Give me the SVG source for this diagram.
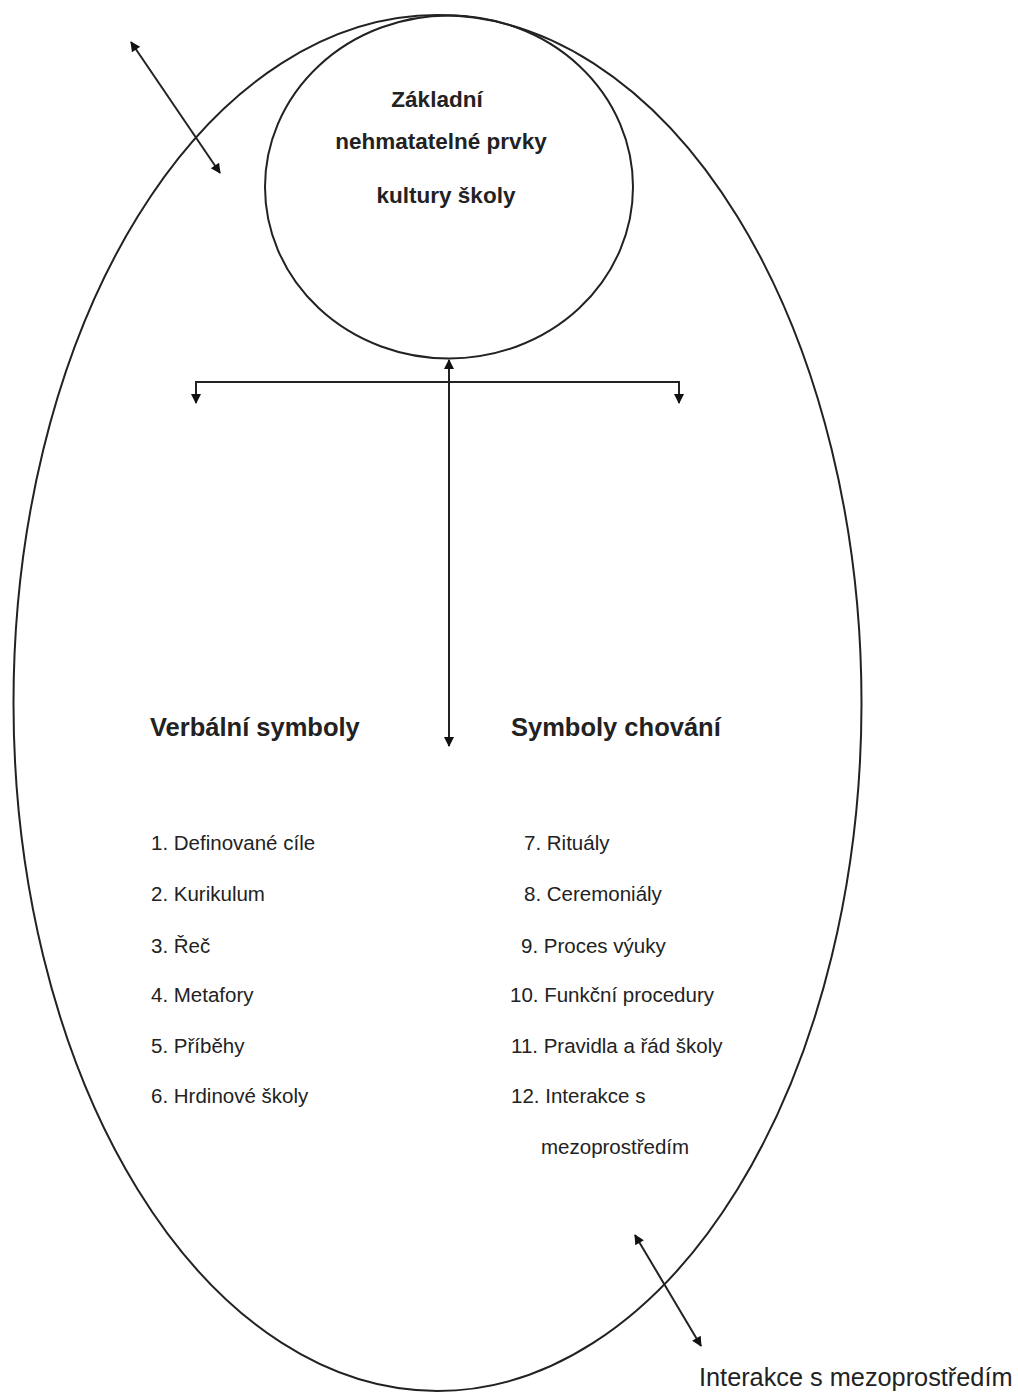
<svg xmlns="http://www.w3.org/2000/svg" width="1018" height="1393" viewBox="0 0 1018 1393">
<style>
.ln{fill:none;stroke:#222;stroke-width:2}
.t{font-family:"Liberation Sans",Arial,sans-serif;fill:#222}
.b{font-weight:bold;font-size:22.5px}
.h{font-weight:bold;font-size:25.5px}
.i{font-size:20.5px}
</style>
<defs>
<marker id="ah" viewBox="0 0 10 10" refX="9" refY="5" markerWidth="12" markerHeight="10" orient="auto-start-reverse" markerUnits="userSpaceOnUse">
<path d="M0,0 L10,5 L0,10 z" fill="#111"/>
</marker>
</defs>
<rect width="1018" height="1393" fill="#fff"/>
<g id="outer">
<ellipse cx="437.5" cy="703" rx="424" ry="688" class="ln"/>
</g>
<g id="core">
<ellipse cx="449" cy="187" rx="184" ry="171.5" class="ln"/>
<text class="t b" x="437" y="107" text-anchor="middle">Základní</text>
<text class="t b" x="441" y="149" text-anchor="middle">nehmatatelné prvky</text>
<text class="t b" x="446" y="203" text-anchor="middle">kultury školy</text>
</g>
<g id="connectors">
<line x1="131" y1="42" x2="220" y2="173" class="ln" marker-start="url(#ah)" marker-end="url(#ah)"/>
<line x1="635" y1="1235" x2="701" y2="1346" class="ln" marker-start="url(#ah)" marker-end="url(#ah)"/>
<line x1="449" y1="360" x2="449" y2="746" class="ln" marker-start="url(#ah)" marker-end="url(#ah)"/>
<polyline points="196,403 196,382 679,382 679,403" class="ln" marker-start="url(#ah)" marker-end="url(#ah)"/>
</g>
<g id="verbal">
<text class="t h" x="150" y="736">Verbální symboly</text>
<text class="t i" x="151" y="850">1. Definované cíle</text>
<text class="t i" x="151" y="901">2. Kurikulum</text>
<text class="t i" x="151" y="953">3. Řeč</text>
<text class="t i" x="151" y="1002">4. Metafory</text>
<text class="t i" x="151" y="1053">5. Příběhy</text>
<text class="t i" x="151" y="1103">6. Hrdinové školy</text>
</g>
<g id="behaviour">
<text class="t h" x="511" y="736">Symboly chování</text>
<text class="t i" x="524" y="850">7. Rituály</text>
<text class="t i" x="524" y="901">8. Ceremoniály</text>
<text class="t i" x="521" y="953">9. Proces výuky</text>
<text class="t i" x="510" y="1002">10. Funkční procedury</text>
<text class="t i" x="511" y="1053">11. Pravidla a řád školy</text>
<text class="t i" x="511" y="1103">12. Interakce s</text>
<text class="t i" x="541" y="1154">mezoprostředím</text>
</g>
<g id="meso-label">
<text class="t" x="699" y="1386" font-size="25.3">Interakce s mezoprostředím</text>
</g>
</svg>
